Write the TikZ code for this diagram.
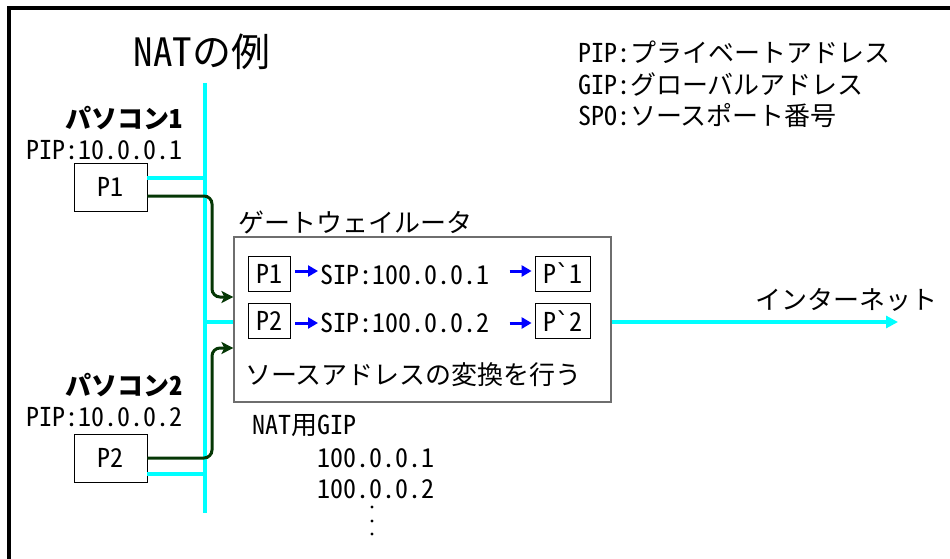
\documentclass[tikz,border=0pt]{standalone}
\usepackage{fontspec}
\setmainfont{Noto Sans CJK JP}[RawFeature=+hwid]
\newfontfamily\gravefont{DejaVu Sans}
\usetikzlibrary{arrows.meta}
\definecolor{cyanline}{RGB}{0,255,255}
\definecolor{darkgr}{RGB}{5,55,5}
\definecolor{gwgrey}{RGB}{110,110,110}
\begin{document}
\begin{tikzpicture}[x=1pt,y=-1pt,
  txt/.style={inner sep=0pt, font=\fontsize{26}{30}\selectfont},
  pcbox/.style={draw=black, line width=0.8pt, minimum width=73pt, minimum height=48pt, inner sep=0pt, font=\fontsize{26}{30}\selectfont},
  smallbox/.style={draw=black, line width=0.8pt, minimum height=35pt, inner sep=0pt, font=\fontsize{26}{30}\selectfont},
  busline/.style={draw=cyanline, line width=4pt},
  grline/.style={draw=darkgr, line width=3pt, rounded corners=8pt, -{Stealth[length=12pt,width=12pt,inset=3pt]}},
  blarrow/.style={draw=blue, line width=3pt, -{Triangle[length=10pt,width=11pt]}},
]
\useasboundingbox (0,0) rectangle (950,559);
% frame
\draw[line width=4pt] (8.5,559) -- (8.5,8) -- (950,8);
% title and legend
\node[txt, font=\fontsize{39}{42}\selectfont] (title) at (202,52) {NATの例};
\node[txt, anchor=west] (leg1) at (578,52) {PIP:プライベートアドレス};
\node[txt, anchor=west] (leg2) at (578,84) {GIP:グローバルアドレス};
\node[txt, anchor=west] (leg3) at (578,116) {SPO:ソースポート番号};
% bus
\coordinate (busT) at (205,83);
\coordinate (busB) at (205,513);
\draw[busline] (busT) -- (busB);
\coordinate (gx) at (212,250);
% PCs
\node[txt, anchor=east, font=\fontsize{26}{30}\selectfont\bfseries] (pc1) at (183,118) {パソコン1};
\node[txt, anchor=east] (pip1) at (183,150) {PIP:10.0.0.1};
\node[pcbox] (p1) at (110.5,187) {P1};
\node[txt, anchor=east, font=\fontsize{26}{30}\selectfont\bfseries] (pc2) at (183,385) {パソコン2};
\node[txt, anchor=east] (pip2) at (183,417) {PIP:10.0.0.2};
\node[pcbox] (p2) at (110.5,458) {P2};
% gateway
\node[draw=gwgrey, line width=1.2pt, minimum width=377pt, minimum height=165pt, inner sep=0pt] (gw) at (422.5,319.5) {};
\node[txt, anchor=west] (gwlabel) at (238,222) {ゲートウェイルータ};
\node[smallbox, minimum width=42pt] (ip1) at (269,273.5) {P1};
\node[smallbox, minimum width=42pt] (ip2) at (269,321) {P2};
\node[txt, anchor=west] (sip1) at (320,275) {SIP:100.0.0.1};
\node[txt, anchor=west] (sip2) at (320,323) {SIP:100.0.0.2};
\node[smallbox, minimum width=55pt] (op1) at (562.5,273.5) {P{\gravefont\symbol{96}}1};
\node[smallbox, minimum width=55pt] (op2) at (562.5,321) {P{\gravefont\symbol{96}}2};
\node[txt, anchor=west] (conv) at (245,375) {ソースアドレスの変換を行う};
\draw[blarrow] ([xshift=5pt]ip1.east |- 0,271) -- ([xshift=-2pt]sip1.west |- 0,271);
\draw[blarrow] ([xshift=-25pt]op1.west |- 0,271) -- ([xshift=-3pt]op1.west |- 0,271);
\draw[blarrow] ([xshift=5pt]ip2.east |- 0,323) -- ([xshift=-2pt]sip2.west |- 0,323);
\draw[blarrow] ([xshift=-25pt]op2.west |- 0,323) -- ([xshift=-3pt]op2.west |- 0,323);
% cyan branches
\draw[busline] ([yshift=9pt]p1.east) -- ([yshift=9pt]p1.east -| busT);
\draw[busline] ([yshift=-16pt]p2.east) -- ([yshift=-16pt]p2.east -| busT);
\coordinate (gwin) at ([yshift=-2.5pt]gw.west);
\draw[busline] (busT |- gwin) -- (gwin);
% green links
\coordinate (o1) at ([yshift=-9pt]p1.east);
\coordinate (in1) at ([yshift=22.5pt]gw.west);
\coordinate (o2) at (p2.east);
\coordinate (in2) at ([yshift=-28.5pt]gw.west);
\draw[grline] (o1) -| (gx |- in1) -- (in1);
\draw[grline] (o2) -| (gx |- in2) -- (in2);
% internet
\coordinate (net) at (898,322);
\draw[draw=cyanline, line width=3.5pt, -{Triangle[length=12pt,width=12pt]}] (gw.east |- net) -- (net);
\node[txt, anchor=east] (nettxt) at (938,300) {インターネット};
% NAT GIP list
\node[txt, anchor=west] (natgip) at (252,426) {NAT用GIP};
\node[txt, anchor=west] (g1) at (317,458) {100.0.0.1};
\node[txt, anchor=west] (g2) at (317,489) {100.0.0.2};
\fill (372,507) circle (1.6pt) (372,521) circle (1.6pt) (372,534) circle (1.6pt);
\end{tikzpicture}
\end{document}
